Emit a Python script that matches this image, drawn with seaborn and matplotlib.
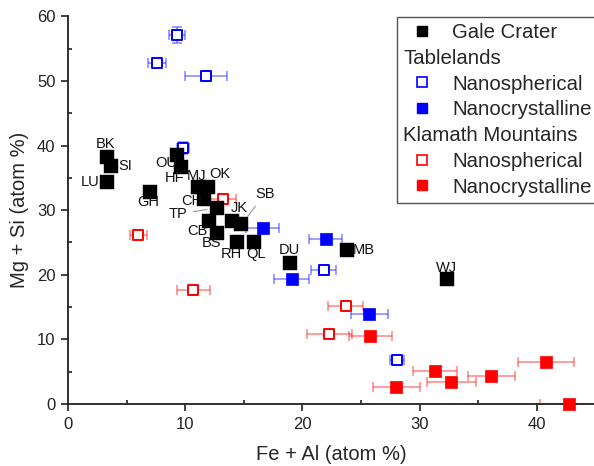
import numpy as np
import pandas as pd
import matplotlib
matplotlib.use('Agg')
import matplotlib.pyplot as plt
import seaborn as sns
from matplotlib.lines import Line2D
from matplotlib.ticker import MultipleLocator

# Gale Crater samples
gale_names = ['BK', 'SI', 'LU', 'GH', 'OU', 'HF', 'MJ', 'OK', 'CH', 'TP',
              'CB', 'BS', 'JK', 'SB', 'RH', 'QL', 'DU', 'MB', 'WJ']
gale_feal = [3.3, 3.7, 3.3, 7.0, 9.3, 9.6, 11.1, 11.9, 11.6, 12.7,
             12.0, 12.7, 14.0, 14.8, 14.4, 15.9, 18.9, 23.8, 32.3]
gale_mgsi = [38.3, 36.8, 34.3, 32.8, 38.6, 36.7, 33.6, 33.6, 31.7, 30.3,
             28.3, 26.5, 28.4, 27.8, 25.1, 25.1, 21.9, 23.9, 19.4]

# Tablelands
tab_sph_x = [9.3, 7.6, 11.8, 9.8, 21.8, 28.1]
tab_sph_y = [57.1, 52.7, 50.7, 39.6, 20.7, 6.8]
tab_sph_xerr = [0.7, 0.8, 1.8, 0.5, 1.1, 0.6]
tab_sph_yerr = [1.2, 0.5, 0.4, 0.9, 0.4, 0.5]

tab_cry_x = [16.6, 22.0, 19.1, 25.7]
tab_cry_y = [27.3, 25.5, 19.4, 14.0]
tab_cry_xerr = [1.4, 1.4, 1.5, 1.6]
tab_cry_yerr = [0.4, 0.4, 0.4, 0.4]

# Klamath Mountains
kla_sph_x = [13.2, 6.0, 10.7, 23.7, 22.3]
kla_sph_y = [31.7, 26.1, 17.7, 15.2, 10.9]
kla_sph_xerr = [1.1, 0.75, 1.4, 1.5, 1.9]
kla_sph_yerr = [0.4, 0.4, 0.4, 0.6, 0.4]

kla_cry_x = [25.8, 31.3, 32.7, 28.0, 36.1, 40.8, 42.7]
kla_cry_y = [10.6, 5.1, 3.4, 2.7, 4.3, 6.5, 0.0]
kla_cry_xerr = [1.8, 1.9, 2.1, 2.0, 2.0, 2.4, 2.4]
kla_cry_yerr = [0.4, 0.4, 0.4, 0.4, 0.4, 0.4, 0.4]

# label offsets (points) for the Gale Crater names
label_offsets = {
    'BK': (-1, 9), 'SI': (10, 0), 'LU': (-12, 0), 'GH': (-1, -7),
    'OU': (-8, -6), 'HF': (-4, -8), 'MJ': (-1, 8), 'OK': (9, 9),
    'CH': (-9, -1), 'TP': (-28, -4), 'CB': (-8, -7), 'BS': (-4, -7),
    'JK': (5, 9), 'SB': (17, 22), 'RH': (-4, -9), 'QL': (1, -9),
    'DU': (0, 9), 'MB': (12, 0), 'WJ': (0, 8),
}
leader = ['TP', 'SB']


def setup_style():
    sns.set_theme(style='ticks')
    plt.rcParams['font.family'] = ['Liberation Sans', 'DejaVu Sans']
    plt.rcParams['axes.edgecolor'] = '#222222'
    plt.rcParams['axes.linewidth'] = 1.3


def draw_group(ax, x, y, xerr, yerr, color, filled, size):
    ax.errorbar(x, y, xerr=xerr, yerr=yerr, fmt='none', ecolor=color,
                alpha=0.45, elinewidth=1.2, capsize=3.5, capthick=1.2,
                zorder=2, clip_on=True)
    df = pd.DataFrame({'x': x, 'y': y})
    if filled:
        sns.scatterplot(data=df, x='x', y='y', marker='s', s=size, color=color,
                        edgecolor=color, linewidth=0.5, ax=ax, zorder=3,
                        clip_on=False, legend=False)
    else:
        sns.scatterplot(data=df, x='x', y='y', marker='s', s=size,
                        facecolor='white', edgecolor=color, linewidth=1.4,
                        ax=ax, zorder=3, clip_on=False, legend=False)


def main():
    setup_style()
    fig = plt.figure(figsize=(5.94, 4.66), dpi=100)
    ax = fig.add_axes([0.1145, 0.133, 0.888, 0.832])

    draw_group(ax, tab_sph_x, tab_sph_y, tab_sph_xerr, tab_sph_yerr, 'blue', False, 55)
    draw_group(ax, kla_sph_x, kla_sph_y, kla_sph_xerr, kla_sph_yerr, 'red', False, 55)
    draw_group(ax, tab_cry_x, tab_cry_y, tab_cry_xerr, tab_cry_yerr, 'blue', True, 85)
    draw_group(ax, kla_cry_x, kla_cry_y, kla_cry_xerr, kla_cry_yerr, 'red', True, 80)

    gale = pd.DataFrame({'x': gale_feal, 'y': gale_mgsi, 'name': gale_names})
    sns.scatterplot(data=gale, x='x', y='y', marker='s', s=90, color='black',
                    edgecolor='black', linewidth=0.3, ax=ax, zorder=4,
                    legend=False)

    for _, row in gale.iterrows():
        dx, dy = label_offsets[row['name']]
        arrow = None
        if row['name'] in leader:
            arrow = dict(arrowstyle='-', color='#999999', lw=0.8,
                         shrinkA=2, shrinkB=7)
        ax.annotate(row['name'], (row['x'], row['y']), xytext=(dx, dy),
                    textcoords='offset points', ha='center', va='center',
                    fontsize=10.5, color='#111111', arrowprops=arrow, zorder=5)

    ax.set_xlim(0, 45)
    ax.set_ylim(0, 60)
    ax.xaxis.set_major_locator(MultipleLocator(10))
    ax.xaxis.set_minor_locator(MultipleLocator(5))
    ax.yaxis.set_major_locator(MultipleLocator(10))
    ax.yaxis.set_minor_locator(MultipleLocator(5))
    ax.tick_params(which='major', direction='out', length=5, width=1.2,
                   labelsize=12, colors='#222222', pad=4)
    ax.tick_params(which='minor', direction='in', length=3, width=1.2,
                   colors='#222222')
    ax.tick_params(which='minor', bottom=True, left=True)
    sns.despine(ax=ax)
    ax.set_xlabel('Fe + Al (atom %)', fontsize=14.5, labelpad=10)
    ax.set_ylabel('Mg + Si (atom %)', fontsize=14.5, labelpad=6)

    blank = Line2D([], [], linestyle='none')
    handles = [
        Line2D([], [], marker='s', linestyle='none', color='black', markersize=7),
        blank,
        Line2D([], [], marker='s', linestyle='none', markerfacecolor='white',
               markeredgecolor='blue', markersize=7, markeredgewidth=1.2),
        Line2D([], [], marker='s', linestyle='none', color='blue', markersize=7),
        blank,
        Line2D([], [], marker='s', linestyle='none', markerfacecolor='white',
               markeredgecolor='red', markersize=7, markeredgewidth=1.2),
        Line2D([], [], marker='s', linestyle='none', color='red', markersize=7),
    ]
    labels = ['Gale Crater', 'Tablelands', 'Nanospherical', 'Nanocrystalline',
              'Klamath Mountains', 'Nanospherical', 'Nanocrystalline']
    leg = fig.legend(handles, labels, loc='upper left',
                     bbox_to_anchor=(397 / 594, 1 - 17 / 466),
                     bbox_transform=fig.transFigure, fontsize=14.7,
                     frameon=True, fancybox=False, framealpha=1,
                     edgecolor='#555555', labelspacing=0.33,
                     handlelength=1.8, handletextpad=0.6, borderpad=0.3,
                     borderaxespad=0)
    leg.get_frame().set_linewidth(1.0)

    # headers: no handle, text pushed left
    header_rows = [1, 4]
    for column in leg._legend_handle_box.get_children():
        for i, row in enumerate(column.get_children()):
            if i in header_rows:
                row.get_children()[0].width = 0
                row.sep = 0

    fig.savefig('out.png', dpi=100)


if __name__ == '__main__':
    main()
